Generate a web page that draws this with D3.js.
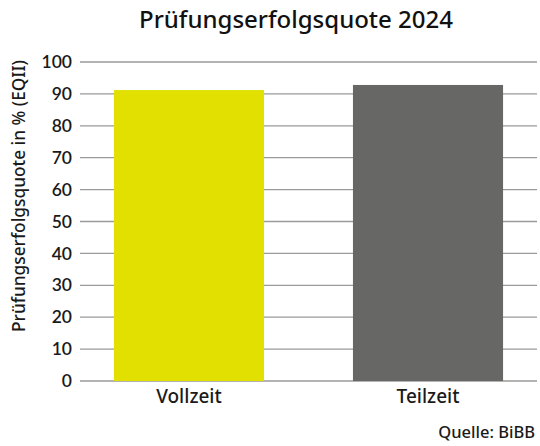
<!DOCTYPE html>
<html>
<head>
<meta charset="utf-8">
<script src="https://cdn.jsdelivr.net/npm/d3@7"></script>
<style>
  body { margin: 0; background: #fff; }
  svg { display: block; }
</style>
</head>
<body>
<svg id="chart" width="540" height="446"></svg>
<script>
// data
const categories = ["Vollzeit", "Teilzeit"]
const values = [91.2, 92.8]
const barColors = ["#e2e000", "#676766"]
const yTicks = [0, 10, 20, 30, 40, 50, 60, 70, 80, 90, 100]

const svg = d3.select("#chart")
const margin = { top: 62, right: 3, bottom: 65, left: 80 }
const width = 540 - margin.left - margin.right
const height = 446 - margin.top - margin.bottom

const x = d3.scaleBand()
    .domain(categories)
    .range([0, width])
    .paddingInner(0.372)
    .paddingOuter(0.142)

const y = d3.scaleLinear()
    .domain([0, 100])
    .range([height, 0])

const g = svg.append("g").attr("transform", `translate(${margin.left},${margin.top})`)

// gridlines
g.append("g")
    .selectAll("line")
    .data(yTicks)
    .join("line")
    .attr("x1", 0)
    .attr("x2", width)
    .attr("y1", d => y(d))
    .attr("y2", d => y(d))
    .attr("stroke", "#9a9a9a")
    .attr("stroke-width", 1.3)

// y axis labels
const yAxis = g.append("g")
    .call(d3.axisLeft(y).tickValues(yTicks).tickSize(0).tickPadding(8))
yAxis.select(".domain").remove()
yAxis.selectAll("text")
    .attr("font-family", "Lato, sans-serif")
    .attr("font-weight", 600)
    .attr("font-size", 17.5)
    .attr("fill", "#1a1a1a")

// bars
g.selectAll("rect.bar")
    .data(categories)
    .join("rect")
    .attr("class", "bar")
    .attr("x", d => x(d))
    .attr("width", x.bandwidth())
    .attr("y", (d, i) => y(values[i]))
    .attr("height", (d, i) => height - y(values[i]))
    .attr("fill", (d, i) => barColors[i])

// x axis labels
const xAxis = g.append("g")
    .attr("transform", `translate(0,${height})`)
    .call(d3.axisBottom(x).tickSize(0).tickPadding(9))
xAxis.select(".domain").remove()
xAxis.selectAll("text")
    .attr("font-family", "'Noto Sans', sans-serif")
    .attr("font-weight", 500)
    .attr("font-size", 19)
    .attr("fill", "#1a1a1a")

// title
svg.append("text")
    .attr("x", 296)
    .attr("y", 28)
    .attr("text-anchor", "middle")
    .attr("font-family", "'Noto Sans', sans-serif")
    .attr("font-weight", 500)
    .attr("font-size", 24)
    .attr("fill", "#111")
    .text("Prüfungserfolgsquote 2024")

// y axis title
svg.append("text")
    .attr("transform", `translate(25,196) rotate(-90)`)
    .attr("text-anchor", "middle")
    .attr("font-family", "'Noto Sans', sans-serif")
    .attr("font-weight", 500)
    .attr("font-size", 17.3)
    .attr("fill", "#1a1a1a")
    .text("Prüfungserfolgsquote in % (EQII)")

// source
svg.append("text")
    .attr("x", 535)
    .attr("y", 438)
    .attr("text-anchor", "end")
    .attr("font-family", "'Noto Sans', sans-serif")
    .attr("font-weight", 500)
    .attr("font-size", 16.5)
    .attr("fill", "#1a1a1a")
    .text("Quelle: BiBB")
</script>
</body>
</html>
